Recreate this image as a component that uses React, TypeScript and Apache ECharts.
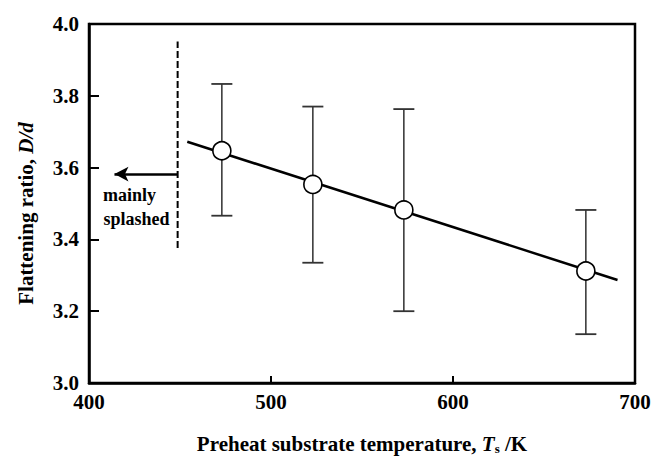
import React, { useEffect, useRef } from "react";
import * as echarts from "echarts";

const temps = [473, 523, 573, 673];
const ratios = [3.647, 3.553, 3.482, 3.312];
const upper = [3.833, 3.77, 3.763, 3.482];
const lower = [3.466, 3.335, 3.2, 3.136];
const fitLine = [
  [454, 3.672],
  [690.4, 3.287],
];
const splashLimit = 448.7;
const dashedRange = [3.376, 3.951];
const arrowY = 3.582;
const arrowTip = 414;
const xTicks = { min: 400, max: 700, interval: 100 };
const yTicks = { min: 3.0, max: 4.0, interval: 0.2 };

const FONT = "Liberation Serif";

export default function App() {
  const ref = useRef<HTMLDivElement>(null);
  useEffect(() => {
    if (!ref.current) return;
    const chart = echarts.init(ref.current, undefined, { renderer: "svg" });
    const errData = temps.map((t, i) => [t, lower[i], upper[i]]);
    chart.setOption({
      animation: false,
      backgroundColor: "#fff",
      grid: {
        left: 89,
        top: 24,
        right: 30,
        bottom: 76,
        show: true,
        borderColor: "#000",
        borderWidth: 2.5,
        backgroundColor: "transparent",
      },
      xAxis: {
        type: "value",
        min: xTicks.min,
        max: xTicks.max,
        interval: xTicks.interval,
        axisLine: { lineStyle: { color: "#000", width: 2.5 } },
        axisTick: { inside: true, length: 7, lineStyle: { color: "#000", width: 2 } },
        splitLine: { show: false },
        axisLabel: {
          color: "#000",
          fontFamily: FONT,
          fontWeight: "bold",
          fontSize: 21,
          margin: 8,
        },
        name: "{a|Preheat substrate temperature, }{b|T}{c|s}{a| /K}",
        nameLocation: "middle",
        nameGap: 49,
        nameTextStyle: {
          rich: {
            a: { fontFamily: FONT, fontWeight: "bold", fontSize: 21, color: "#000" },
            b: { fontFamily: FONT, fontWeight: "bold", fontStyle: "italic", fontSize: 21, color: "#000" },
            c: { fontFamily: FONT, fontWeight: "bold", fontSize: 13, color: "#000", verticalAlign: "bottom", padding: [10, 0, 0, 0] },
          },
        },
      },
      yAxis: {
        type: "value",
        min: yTicks.min,
        max: yTicks.max,
        interval: yTicks.interval,
        axisLine: { show: true, lineStyle: { color: "#000", width: 2.5 } },
        axisTick: { show: true, inside: true, length: 10, lineStyle: { color: "#000", width: 2 } },
        splitLine: { show: false },
        axisLabel: {
          color: "#000",
          fontFamily: FONT,
          fontWeight: "bold",
          fontSize: 21,
          margin: 10,
          formatter: (v: number) => v.toFixed(1),
        },
        name: "{a|Flattening ratio, }{b|D/d}",
        nameLocation: "middle",
        nameRotate: 90,
        nameGap: 53,
        nameTextStyle: {
          padding: [0, 20, 0, 0],
          rich: {
            a: { fontFamily: FONT, fontWeight: "bold", fontSize: 21, color: "#000" },
            b: { fontFamily: FONT, fontWeight: "bold", fontStyle: "italic", fontSize: 21, color: "#000" },
          },
        },
      },
      series: [
        {
          type: "line",
          data: fitLine,
          symbol: "none",
          lineStyle: { color: "#000", width: 2.5 },
          z: 2,
        },
        {
          type: "line",
          data: [
            [splashLimit, dashedRange[0]],
            [splashLimit, dashedRange[1]],
          ],
          symbol: "none",
          lineStyle: { color: "#000", width: 2, type: [7, 3] },
          z: 2,
          markLine: {
            silent: true,
            symbol: ["none", "arrow"],
            symbolSize: [11, 14],
            label: { show: false },
            lineStyle: { color: "#000", width: 2.5, type: "solid" },
            data: [
              [
                { coord: [splashLimit, arrowY] },
                { coord: [arrowTip, arrowY] },
              ],
            ],
          },
        },
        {
          type: "custom",
          data: errData,
          z: 3,
          renderItem: (params: any, api: any) => {
            const x = api.value(0);
            const lo = api.coord([x, api.value(1)]);
            const hi = api.coord([x, api.value(2)]);
            const hw = 10.5;
            const style = { stroke: "#222", lineWidth: 1.4 };
            return {
              type: "group",
              children: [
                { type: "line", shape: { x1: lo[0], y1: lo[1], x2: hi[0], y2: hi[1] }, style },
                { type: "line", shape: { x1: hi[0] - hw, y1: hi[1], x2: hi[0] + hw, y2: hi[1] }, style: { stroke: "#333", lineWidth: 1.8 } },
                { type: "line", shape: { x1: lo[0] - hw, y1: lo[1], x2: lo[0] + hw, y2: lo[1] }, style: { stroke: "#333", lineWidth: 1.8 } },
              ],
            };
          },
        },
        {
          type: "scatter",
          data: temps.map((t, i) => [t, ratios[i]]),
          symbol: "circle",
          symbolSize: 18,
          itemStyle: { color: "#fff", borderColor: "#000", borderWidth: 1.6, opacity: 1 },
          z: 5,
        },
      ],
      graphic: [
        {
          type: "text",
          x: 129.5,
          y: 195,
          style: {
            text: "mainly",
            fontFamily: FONT,
            fontWeight: "bold",
            fontSize: 18,
            fill: "#000",
            align: "center",
            verticalAlign: "middle",
          },
        },
        {
          type: "text",
          x: 136.5,
          y: 219,
          style: {
            text: "splashed",
            fontFamily: FONT,
            fontWeight: "bold",
            fontSize: 18,
            fill: "#000",
            align: "center",
            verticalAlign: "middle",
          },
        },
      ],
    });
    return () => chart.dispose();
  }, []);
  return (
    <div
      ref={ref}
      style={{ position: "fixed", left: 0, top: 0, width: 665, height: 460, background: "#fff" }}
    />
  );
}
